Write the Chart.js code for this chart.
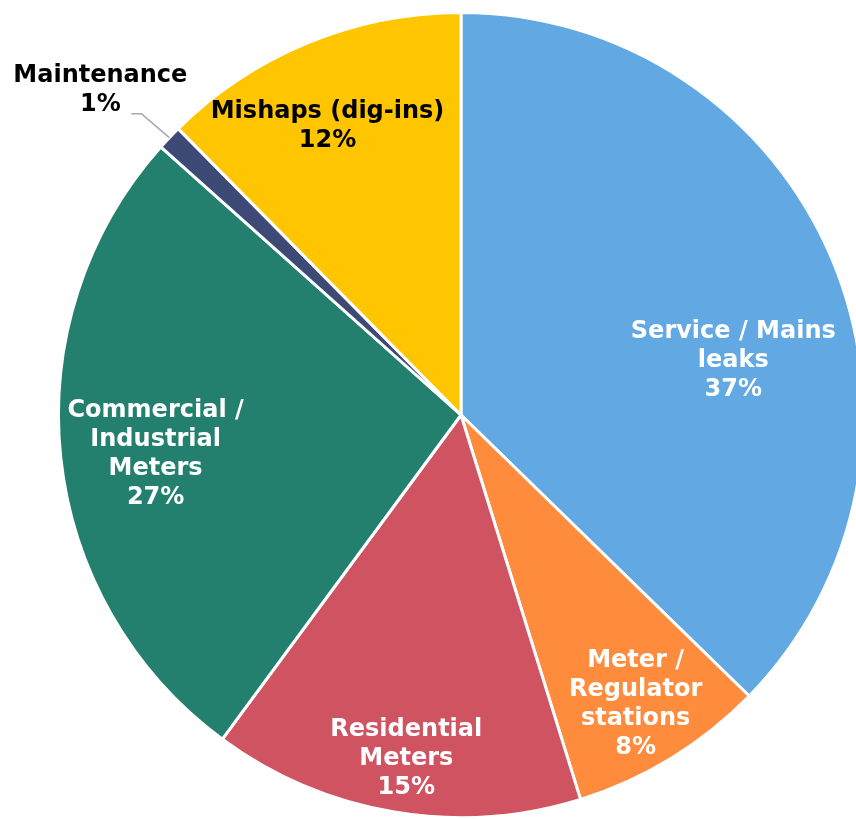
<!DOCTYPE html>
<html>
<head>
<meta charset="utf-8">
<script src="https://cdn.jsdelivr.net/npm/chart.js@4"></script>
<style>
  html, body { margin: 0; padding: 0; background: #fff; overflow: hidden; }
  #wrap { position: relative; width: 920px; height: 819px; }
</style>
</head>
<body>
<div id="wrap"><canvas id="leak-chart"></canvas></div>
<script>
// slice data, clockwise from 12 o'clock
const categories = [
    ['Service / Mains', 'leaks'],
    ['Meter /', 'Regulator', 'stations'],
    ['Residential', 'Meters'],
    ['Commercial /', 'Industrial', 'Meters'],
    ['Maintenance'],
    ['Mishaps (dig-ins)']
];
const shares = [37.3, 7.9, 14.9, 26.5, 1.0, 12.4];
const colors = ['#62A8E2', '#FF8B3D', '#D05361', '#237F6E', '#3D4A75', '#FFC600'];
const textColors = ['#fff', '#fff', '#fff', '#fff', '#000', '#000'];

// label placement: fraction of radius, angle nudge in degrees, outside flag
const labelRadius = [0.69, 0.84, 0.865, 0.765, 1, 0.79];
const labelNudge = [11.5, 0.4, -0.5, -1.4, 0, -2.5];
const outsideLabel = [false, false, false, false, true, false];

const FONT = 'bold 24px "DejaVu Sans", Verdana, sans-serif';
const LINE_H = 29;

const pieLabels = {
    id: 'pieLabels',
    afterDatasetsDraw(chart) {
        const ctx = chart.ctx;
        const meta = chart.getDatasetMeta(0);
        const total = shares.reduce((a, b) => a + b, 0);
        ctx.save();
        ctx.font = FONT;
        ctx.textAlign = 'center';
        ctx.textBaseline = 'middle';
        meta.data.forEach((arc, i) => {
            const lines = categories[i].concat([Math.round(shares[i] / total * 100) + '%']);
            const mid = (arc.startAngle + arc.endAngle) / 2 + labelNudge[i] * Math.PI / 180;
            let cx, cy;
            if (outsideLabel[i]) {
                const px = arc.x + Math.cos(mid) * arc.outerRadius;
                const py = arc.y + Math.sin(mid) * arc.outerRadius;
                const ex = px - 28, ey = py - 24;
                ctx.strokeStyle = '#A6A6A6';
                ctx.lineWidth = 1.5;
                ctx.beginPath();
                ctx.moveTo(px, py);
                ctx.lineTo(ex, ey);
                ctx.lineTo(ex - 10, ey);
                ctx.stroke();
                cx = ex - 41;
                cy = ey - 23;
            } else {
                const r = arc.outerRadius * labelRadius[i];
                cx = arc.x + Math.cos(mid) * r;
                cy = arc.y + Math.sin(mid) * r;
            }
            ctx.fillStyle = textColors[i];
            const top = cy - (lines.length - 1) * LINE_H / 2;
            lines.forEach((t, k) => ctx.fillText(t, cx, top + k * LINE_H));
        });
        ctx.restore();
    }
};

new Chart(document.getElementById('leak-chart'), {
    type: 'pie',
    data: {
        labels: categories.map(c => c.join(' ')),
        datasets: [{
            data: shares,
            backgroundColor: colors,
            borderColor: '#fff',
            borderWidth: 3
        }]
    },
    options: {
        responsive: true,
        maintainAspectRatio: false,
        animation: false,
        layout: { padding: { top: 11, left: 2, right: 0, bottom: 0 } },
        plugins: {
            legend: { display: false },
            tooltip: { enabled: false }
        }
    },
    plugins: [pieLabels]
});
</script>
</body>
</html>
